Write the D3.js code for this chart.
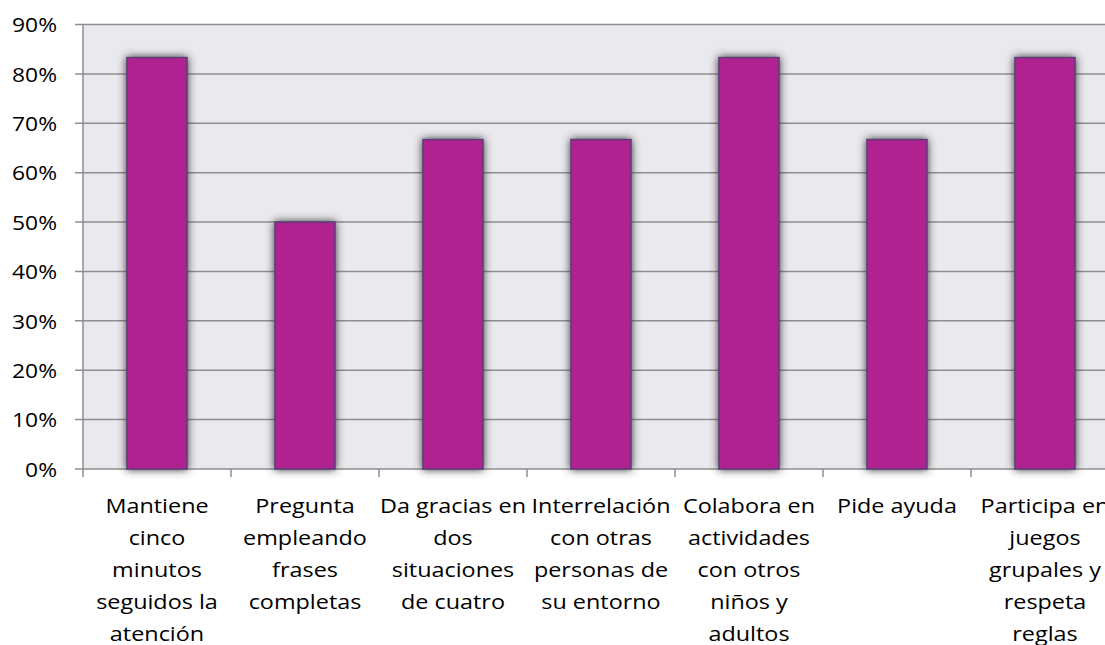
<!DOCTYPE html>
<html>
<head>
<meta charset="utf-8">
<script src="https://cdn.jsdelivr.net/npm/d3@7"></script>
<style>
  body { margin: 0; background: #fff; }
  text { font-family: "Open Sans", "Liberation Sans", sans-serif; }
</style>
</head>
<body>
<svg width="1105" height="645"></svg>
<script>
// data
const categories = [
  ["Mantiene", "cinco", "minutos", "seguidos la", "atención"],
  ["Pregunta", "empleando", "frases", "completas"],
  ["Da gracias en", "dos", "situaciones", "de cuatro"],
  ["Interrelación", "con otras", "personas de", "su entorno"],
  ["Colabora en", "actividades", "con otros", "niños y", "adultos"],
  ["Pide ayuda"],
  ["Participa en", "juegos", "grupales y", "respeta", "reglas"]
]
const values = [0.833, 0.50, 0.667, 0.667, 0.833, 0.667, 0.833]
const yTicks = [0, 0.1, 0.2, 0.3, 0.4, 0.5, 0.6, 0.7, 0.8, 0.9]

const svg = d3.select("svg")

const plotLeft = 83, plotTop = 24.5, plotBottom = 469
const bandW = 148
const stretch = 1.17   // text in the original is a bit wider than Open Sans

const x = d3.scaleBand()
    .domain(d3.range(categories.length))
    .range([plotLeft, plotLeft + bandW * categories.length])
    .paddingInner(0)
    .paddingOuter(0)

const y = d3.scaleLinear()
    .domain([0, 0.9])
    .range([plotBottom, plotTop])

// shadow filter
const defs = svg.append("defs")
const f = defs.append("filter").attr("id", "shadow")
    .attr("x", "-50%").attr("y", "-10%").attr("width", "200%").attr("height", "120%")
f.append("feDropShadow")
    .attr("dx", 0).attr("dy", 0)
    .attr("stdDeviation", 4.5)
    .attr("flood-color", "#333")
    .attr("flood-opacity", 1)

// plot background
svg.append("rect")
    .attr("x", plotLeft).attr("y", plotTop)
    .attr("width", x.range()[1] - plotLeft).attr("height", plotBottom - plotTop)
    .attr("fill", "#eae9ee")

// gridlines
svg.append("g")
  .selectAll("line")
  .data(yTicks)
  .join("line")
    .attr("x1", plotLeft - 8).attr("x2", x.range()[1])
    .attr("y1", d => y(d)).attr("y2", d => y(d))
    .attr("stroke", "#8e8e8e")
    .attr("stroke-width", 1.5)

// y axis line
svg.append("line")
    .attr("x1", plotLeft).attr("x2", plotLeft)
    .attr("y1", plotTop).attr("y2", plotBottom)
    .attr("stroke", "#8e8e8e").attr("stroke-width", 1.5)

// y labels
svg.append("g")
  .selectAll("text")
  .data(yTicks)
  .join("text")
    .attr("transform", d => `translate(57,${y(d)}) scale(${stretch},1)`)
    .attr("text-anchor", "end")
    .attr("dominant-baseline", "central")
    .style("font-size", "19.5px")
    .attr("fill", "#000")
    .text(d => d3.format(".0%")(d))

// x category ticks
svg.append("g")
  .selectAll("line")
  .data(d3.range(categories.length + 1))
  .join("line")
    .attr("x1", d => plotLeft + d * bandW).attr("x2", d => plotLeft + d * bandW)
    .attr("y1", plotBottom).attr("y2", plotBottom + 8)
    .attr("stroke", "#8e8e8e").attr("stroke-width", 1.5)

// bars
const barW = 60
svg.append("g")
  .selectAll("rect")
  .data(values)
  .join("rect")
    .attr("x", (d, i) => x(i) + x.bandwidth() / 2 - barW / 2)
    .attr("y", d => y(d))
    .attr("width", barW)
    .attr("height", d => plotBottom - y(d))
    .attr("fill", "#b0228f")
    .attr("stroke", "#5b3e78")
    .attr("stroke-width", 1.5)
    .attr("filter", "url(#shadow)")

// category labels
const lab = svg.append("g")
  .selectAll("text")
  .data(categories)
  .join("text")
    .attr("transform", (d, i) => `translate(${x(i) + x.bandwidth() / 2},505) scale(${stretch},1)`)
    .attr("text-anchor", "middle")
    .style("font-size", "20px")
    .attr("fill", "#000")

lab.selectAll("tspan")
  .data(d => d)
  .join("tspan")
    .attr("x", 0)
    .attr("dy", (d, i) => i === 0 ? 0 : 32)
    .attr("dominant-baseline", "central")
    .text(d => d)
</script>
</body>
</html>
